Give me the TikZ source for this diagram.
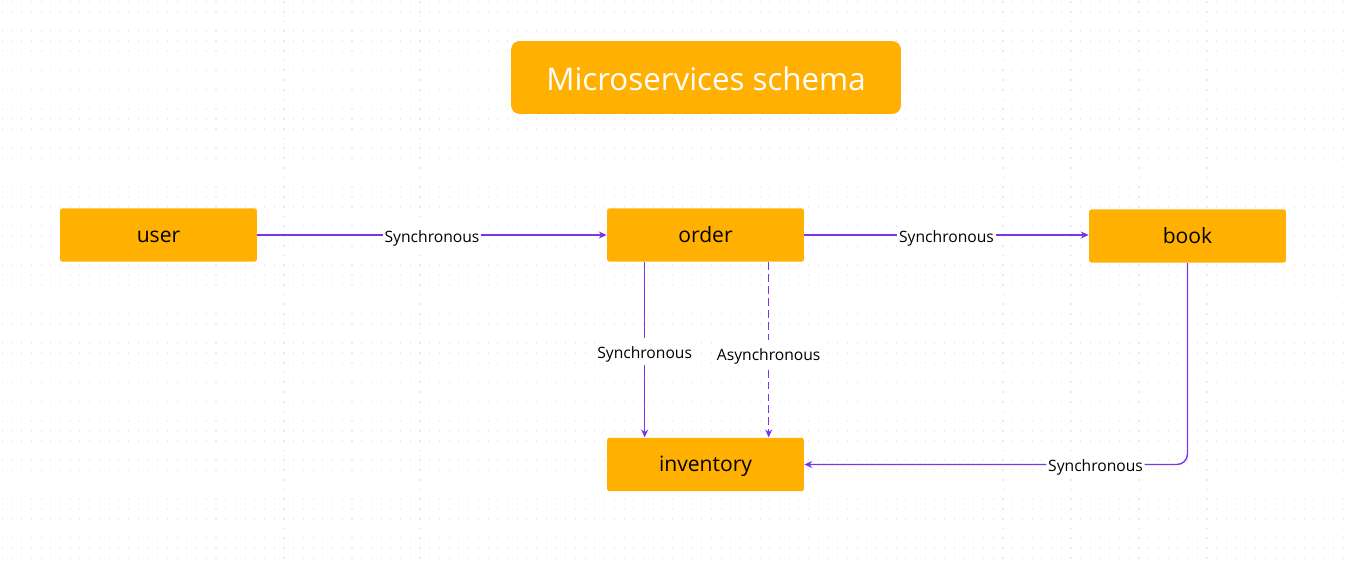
\documentclass[tikz,border=0pt]{standalone}
\usepackage{fontspec}
\setmainfont{Open Sans}
\usetikzlibrary{arrows.meta}
\definecolor{svcorange}{HTML}{FFB000}
\definecolor{linkpurple}{HTML}{7A35EC}
\begin{document}
\begin{tikzpicture}[x=0.02cm,y=-0.02cm,
		service/.style={fill=svcorange,rounded corners=1.5pt,minimum width=3.94cm,minimum height=1.07cm,text height=2ex,text depth=0.5ex,font=\fontsize{12}{14}\selectfont},
		link/.style={draw=linkpurple,line width=0.8pt,-{Stealth[length=4.5pt,width=4pt]}},
		linklabel/.style={fill=white,inner sep=1pt,text height=2ex,text depth=0.45ex,font=\fontsize{8.9}{10}\selectfont}]
				\useasboundingbox (0,0) rectangle (1349,567);
				% Dot grid
				\foreach \j in {0,1,...,57}{
					\draw[black!8,line width=0.9pt,dash pattern=on 0.6pt off 4.93pt] (1.7,2+\j*9.75) -- (1349,2+\j*9.75);
				}
				
				% Title
				\node[fill=svcorange,rounded corners=5pt,minimum width=7.8cm,minimum height=1.46cm,text=white,text height=3.3ex,text depth=0.5ex,font=\fontsize{17.8}{21}\selectfont] (title) at (706,77.5) {Microservices schema};
				
				% Services
				\node[service] (user) at (158.5,235) {user};
				\node[service] (order) at (705.5,235) {order};
				\node[service] (book) at (1187.5,236) {book};
				\node[service] (inventory) at (705.5,464.5) {inventory};
				
				% Calls
				\draw[link] (user) -- node[linklabel] {Synchronous} (order);
				\draw[link] (order.east) -- node[linklabel] {Synchronous} (book.west |- order.east);
				\draw[link] (order.south west) ++(38,0) coordinate (o1) -- node[linklabel,pos=0.51] {Synchronous} (o1 |- inventory.north);
				\draw[link,dash pattern=on 4.5pt off 2.3pt] (order.south west) ++(162,0) coordinate (o2) -- node[linklabel,pos=0.52] {Asynchronous} (o2 |- inventory.north);
				\draw[link,rounded corners=6pt] (book.south) -- (book.south |- inventory.east) -- node[linklabel,pos=0.24] {Synchronous} (inventory.east);
			\end{tikzpicture}
\end{document}
